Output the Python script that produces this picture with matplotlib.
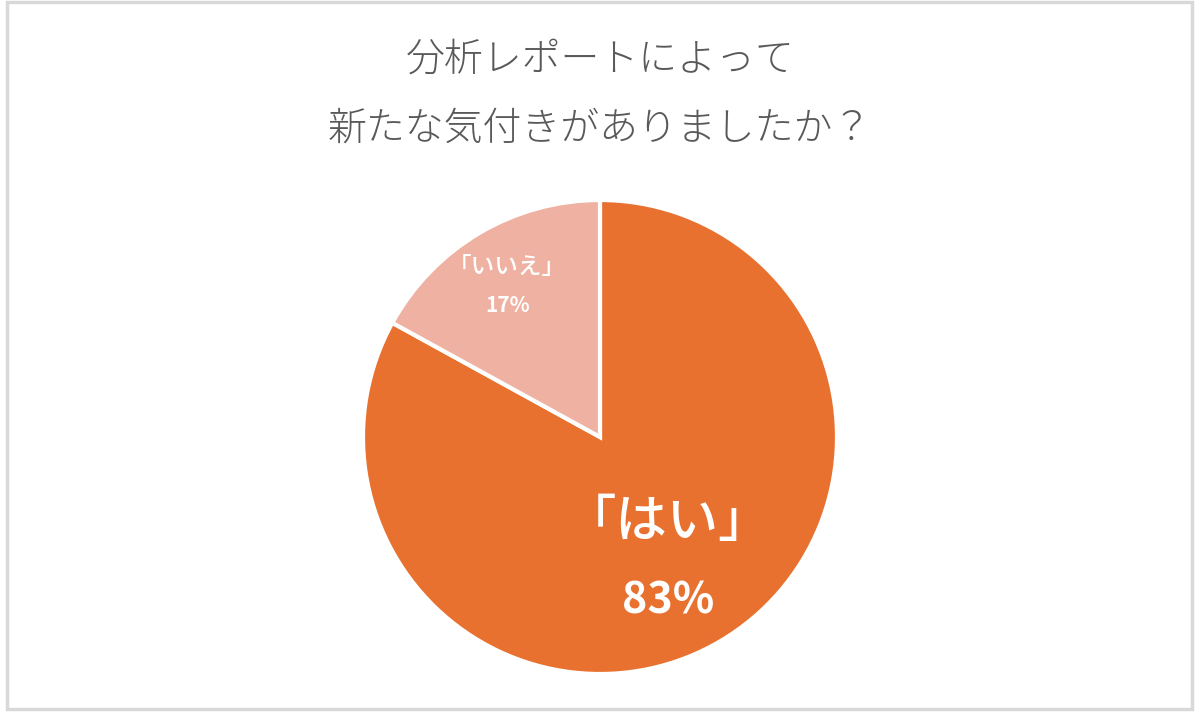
import matplotlib.pyplot as plt
from matplotlib.patches import Rectangle

plt.rcParams['font.family'] = ['Noto Sans CJK JP', 'DejaVu Sans']

labels = ["「はい」", "「いいえ」"]
values = [83, 17]
colors = ["#E8712F", "#EFB2A2"]
title_lines = ["分析レポートによって", "新たな気付きがありましたか？"]

W, H = 1200, 726
fig = plt.figure(figsize=(W / 100, H / 100), dpi=100)
ax = fig.add_axes([0, 0, 1, 1])
ax.set_xlim(0, W)
ax.set_ylim(0, H)
ax.set_aspect('equal')
ax.axis('off')

# outer frame
ax.add_patch(Rectangle((7, H - 709), 1185, 707, fill=False,
                       edgecolor="#d9d9d9", linewidth=2.5))

ax.pie(values, colors=colors, startangle=90, counterclock=False,
       center=(600, H - 437), radius=237,
       wedgeprops=dict(edgecolor="white", linewidth=3))
ax.set_xlim(0, W)
ax.set_ylim(0, H)

ax.text(600, H - 60, title_lines[0], ha='center', va='center',
        fontsize=28, color="#595959", fontweight='light')
ax.text(600, H - 129, title_lines[1], ha='center', va='center',
        fontsize=28, color="#595959", fontweight='light')

# big slice labels
ax.text(668, H - 522, labels[0], ha='center', va='center',
        fontsize=37, color="white", fontweight='medium')
ax.text(668, H - 600, f"{values[0]}%", ha='center', va='center',
        fontsize=31, color="white", fontweight='bold')

# small slice labels
ax.text(507, H - 268, labels[1], ha='center', va='center',
        fontsize=17, color="white", fontweight='medium')
ax.text(508, H - 306, f"{values[1]}%", ha='center', va='center',
        fontsize=15, color="white", fontweight='bold')

fig.savefig("out.png", dpi=100)
